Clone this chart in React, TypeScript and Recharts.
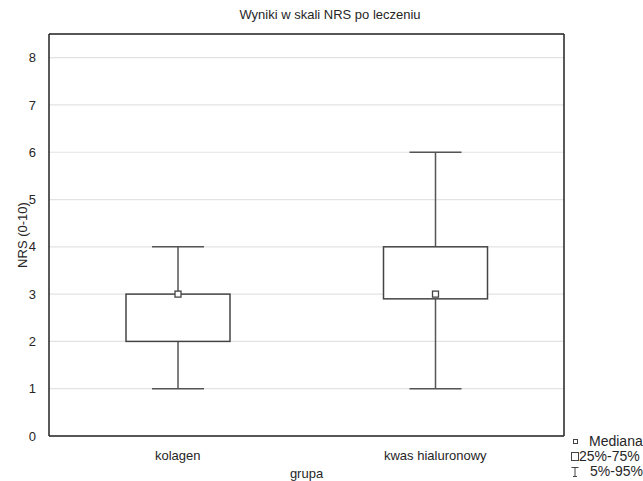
import React from 'react';
import { ComposedChart, Bar, XAxis, YAxis, CartesianGrid } from 'recharts';

const categories = ['kolagen', 'kwas hialuronowy'];
const mins = [1, 1];
const q1s = [2, 2.9];
const medians = [3, 3];
const q3s = [3, 4];
const maxs = [4, 6];
const yTicks = [0, 1, 2, 3, 4, 5, 6, 7, 8];

const title = 'Wyniki w skali NRS po leczeniu';
const xLabel = 'grupa';
const yLabel = 'NRS (0-10)';
const legendItems = ['Mediana', '25%-75%', '5%-95%'];

const data = categories.map((name, i) => ({
  name,
  range: [mins[i], maxs[i]],
  min: mins[i],
  q1: q1s[i],
  median: medians[i],
  q3: q3s[i],
  max: maxs[i],
}));

const FONT = 'Arial, "Liberation Sans", sans-serif';
const TEXT = '#262626';
const STROKE = '#555';

const BoxShape = (props: any) => {
  const { x, y, width, height, payload } = props;
  if (!payload) return null;
  const { min, max, q1, q3, median } = payload;
  const top = Math.min(y, y + height);
  const h = Math.abs(height);
  const py = (v: number) => top + (h * (max - v)) / (max - min);
  const cx = x + width / 2;
  const capW = width / 2;
  const yMax = py(max);
  const yMin = py(min);
  const yQ1 = py(q1);
  const yQ3 = py(q3);
  const yMed = py(median);
  return (
    <g>
      <line x1={cx} x2={cx} y1={yMax} y2={yQ3} stroke={STROKE} strokeWidth={1.5} />
      <line x1={cx} x2={cx} y1={yQ1} y2={yMin} stroke={STROKE} strokeWidth={1.5} />
      <line x1={cx - capW / 2} x2={cx + capW / 2} y1={yMax} y2={yMax} stroke={STROKE} strokeWidth={1.5} />
      <line x1={cx - capW / 2} x2={cx + capW / 2} y1={yMin} y2={yMin} stroke={STROKE} strokeWidth={1.5} />
      <rect x={x} y={yQ3} width={width} height={yQ1 - yQ3} fill="#fff" stroke="#444" strokeWidth={1.5} />
      <rect x={cx - 3} y={yMed - 3} width={6} height={6} fill="#fff" stroke="#444" strokeWidth={1.3} />
    </g>
  );
};

const YLabel = (props: any) => {
  const vb = props.viewBox || {};
  const cy = (vb.y || 0) + (vb.height || 0) / 2;
  const cx = 22;
  return (
    <text
      x={cx}
      y={cy}
      transform={`rotate(-90 ${cx} ${cy})`}
      textAnchor="middle"
      dominantBaseline="central"
      fill={TEXT}
      fontSize={13}
      fontFamily={FONT}
    >
      {yLabel}
    </text>
  );
};

const legendRow = (top: number, icon: React.ReactNode, textLeft: number, label: string) => (
  <div style={{ position: 'absolute', left: 0, top, height: 15, width: 80 }}>
    <svg width={12} height={15} style={{ position: 'absolute', left: 0, top: 0 }}>
      {icon}
    </svg>
    <span style={{ position: 'absolute', left: textLeft, top: 0, lineHeight: '15px', whiteSpace: 'nowrap' }}>{label}</span>
  </div>
);

export default function App() {
  return (
    <div style={{ position: 'absolute', left: 0, top: 0, width: 643, height: 481, background: '#fff', fontFamily: FONT }}>
      <ComposedChart
        width={643}
        height={481}
        data={data}
        margin={{ top: 33, right: 78, bottom: 0, left: 0 }}
      >
        <CartesianGrid xAxisId="bottom" yAxisId="left" vertical={false} stroke="#e3e3e3" strokeWidth={1.2} />
        <XAxis
          xAxisId="bottom"
          dataKey="name"
          height={45}
          tickLine={false}
          tickMargin={9}
          axisLine={{ stroke: '#222', strokeWidth: 1.5 }}
          tick={{ fill: TEXT, fontSize: 13, fontFamily: FONT }}
          label={{ value: xLabel, position: 'insideBottom', offset: 3, fill: TEXT, fontSize: 13, fontFamily: FONT }}
        />
        <XAxis
          xAxisId="top"
          dataKey="name"
          orientation="top"
          height={1}
          tick={false}
          tickLine={false}
          axisLine={{ stroke: '#222', strokeWidth: 1.5 }}
        />
        <YAxis
          yAxisId="left"
          width={49}
          domain={[0, 8.5]}
          ticks={yTicks}
          allowDataOverflow
          tickLine={false}
          tickMargin={7}
          axisLine={{ stroke: '#222', strokeWidth: 1.5 }}
          tick={{ fill: TEXT, fontSize: 13, fontFamily: FONT }}
          label={<YLabel />}
        />
        <YAxis
          yAxisId="right"
          orientation="right"
          width={1}
          domain={[0, 8.5]}
          allowDataOverflow
          tick={false}
          tickLine={false}
          axisLine={{ stroke: '#222', strokeWidth: 1.5 }}
        />
        <Bar
          xAxisId="bottom"
          yAxisId="left"
          dataKey="range"
          barSize={104}
          shape={<BoxShape />}
          isAnimationActive={false}
        />
        <Bar
          xAxisId="top"
          yAxisId="right"
          dataKey="range"
          fill="none"
          stroke="none"
          isAnimationActive={false}
        />
      </ComposedChart>
      <div
        style={{
          position: 'absolute',
          left: 0,
          width: 660,
          top: 7,
          textAlign: 'center',
          fontSize: 13,
          color: TEXT,
          whiteSpace: 'nowrap',
        }}
      >
        {title}
      </div>
      <div style={{ position: 'absolute', left: 570, top: 434, width: 73, height: 47, fontSize: 14, color: TEXT }}>
        {legendRow(
          0,
          <rect x={3.5} y={5.5} width={4} height={4} fill="#fff" stroke="#444" strokeWidth={1} />,
          19,
          legendItems[0]
        )}
        {legendRow(
          15,
          <rect x={1.5} y={3.5} width={7} height={8} fill="#fff" stroke="#444" strokeWidth={1} />,
          9,
          legendItems[1]
        )}
        {legendRow(
          30,
          <g>
            <line x1={1.5} x2={8.5} y1={3.5} y2={3.5} stroke="#444" strokeWidth={1} />
            <line x1={5} x2={5} y1={3.5} y2={13} stroke="#444" strokeWidth={1} />
            <line x1={3} x2={7} y1={12.5} y2={12.5} stroke="#444" strokeWidth={1} />
          </g>,
          20,
          legendItems[2]
        )}
      </div>
    </div>
  );
}
